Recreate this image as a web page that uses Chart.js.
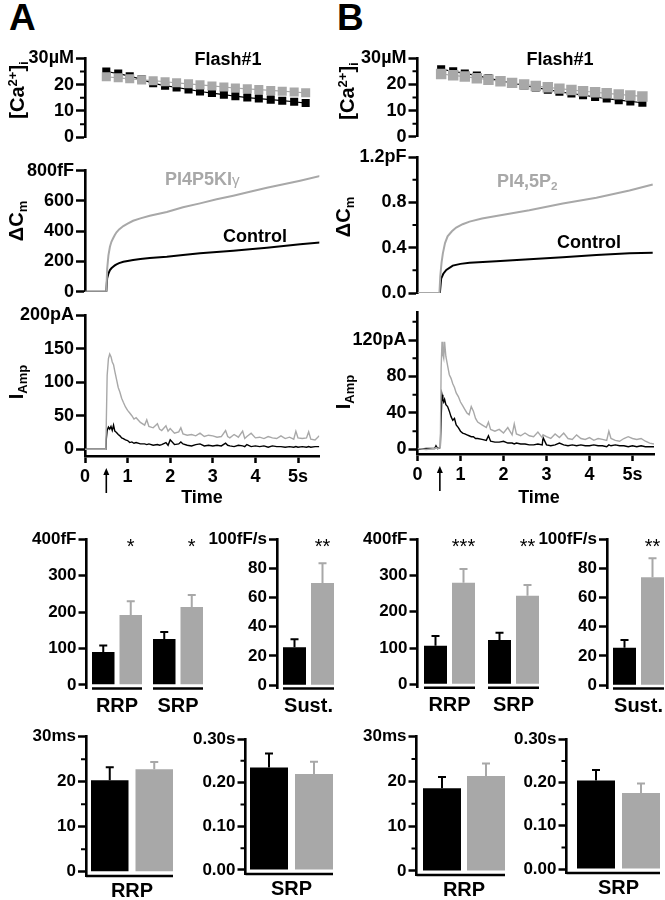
<!DOCTYPE html>
<html>
<head>
<meta charset="utf-8">
<script src="https://cdn.jsdelivr.net/npm/chart.js@4.4.0/dist/chart.umd.min.js"></script>
<style>
  body { margin: 0; background: #fff; width: 665px; height: 900px; overflow: hidden; position: relative;
         font-family: 'Liberation Sans', Arial, Helvetica, sans-serif; }
  canvas { position: absolute; }
  .t { position: absolute; font-weight: bold; line-height: 1; white-space: nowrap; color: #000; }
  .sb { font-size: 0.65em; position: relative; top: 0.3em; }
  .sp { font-size: 0.65em; position: relative; top: -0.55em; }
</style>
</head>
<body>
<script>
// ---------- data ----------
// [Ca2+]i during flash (uM)
const caTimeA = [0.5, 0.78, 1.05, 1.33, 1.6, 1.88, 2.15, 2.43, 2.7, 2.98, 3.26, 3.53, 3.81, 4.08, 4.36, 4.63, 4.91, 5.18];
const caCtrlA = [25, 24.2, 23.2, 22, 20.5, 19.6, 18.9, 18.2, 17.4, 16.8, 16.2, 15.6, 15.1, 14.7, 14.3, 13.9, 13.5, 13.0];
const caPipA  = [23, 22.6, 22.2, 21.8, 21.5, 21.1, 20.7, 20.3, 19.9, 19.5, 19.1, 18.7, 18.4, 18.1, 17.8, 17.5, 17.2, 16.9];
const caTimeB = [0.55, 0.83, 1.1, 1.38, 1.65, 1.93, 2.2, 2.48, 2.75, 3.03, 3.3, 3.58, 3.85, 4.13, 4.4, 4.68, 4.95, 5.23];
const caCtrlB = [25.8, 25, 24.2, 23.4, 22.4, 21.4, 20.5, 19.6, 18.8, 18, 17.2, 16.5, 15.9, 15.2, 14.6, 14.0, 13.5, 13.0];
const caPipB  = [24, 23.5, 23, 22.4, 21.8, 21.2, 20.6, 20, 19.4, 18.9, 18.4, 17.9, 17.4, 17, 16.6, 16.2, 15.8, 15.4];

// capacitance (fF in A, pF in B)
const cmTimeA = [0, 0.5, 0.52, 0.55, 0.585, 0.62, 0.66, 0.7, 0.74, 0.8, 0.9, 1.0, 1.13, 1.3, 1.52, 1.92, 2.3, 2.7, 3.09, 3.48, 3.87, 4.27, 4.66, 5.05, 5.52];
const cmPipA  = [0, 0, 150, 240, 297, 330, 353, 375, 393, 412, 434, 450, 469, 485, 502, 527, 558, 584, 611, 635, 661, 687, 710, 734, 765];
const cmCtrlA = [0, 0, 89, 120, 143, 155, 165, 174, 181, 189, 198, 203, 209, 216, 223, 231, 242, 254, 262, 271, 281, 291, 302, 313, 326];
const cmTimeB = [0, 0.51, 0.53, 0.56, 0.59, 0.64, 0.7, 0.8, 0.9, 1.05, 1.21, 1.5, 1.83, 2.6, 3.38, 4.16, 4.93, 5.47];
const cmPipB  = [0, 0, 0.15, 0.27, 0.35, 0.44, 0.5, 0.545, 0.578, 0.607, 0.63, 0.657, 0.68, 0.73, 0.79, 0.84, 0.905, 0.958];
const cmCtrlTimeB = [0, 0.52, 0.55, 0.6, 0.67, 0.82, 1.0, 1.21, 1.83, 2.6, 3.38, 4.16, 4.93, 5.47];
const cmCtrlB = [0, 0, 0.126, 0.17, 0.204, 0.242, 0.257, 0.266, 0.28, 0.298, 0.315, 0.336, 0.35, 0.356];

// amperometric current (pA)
const ampTimeA = [0, 0.49, 0.5, 0.52, 0.55, 0.58, 0.61, 0.64, 0.67, 0.7, 0.74, 0.78, 0.82, 0.86, 0.9, 0.95, 1.0, 1.05, 1.1, 1.15,
  1.2, 1.3, 1.4, 1.45, 1.5, 1.6, 1.7, 1.75, 1.8, 1.9, 1.95, 2.0, 2.1, 2.2, 2.25, 2.3, 2.4, 2.5, 2.6, 2.7, 2.8, 2.9, 3.0, 3.1,
  3.2, 3.3, 3.35, 3.4, 3.5, 3.6, 3.7, 3.75, 3.8, 3.9, 4.0, 4.1, 4.2, 4.3, 4.4, 4.5, 4.6, 4.7, 4.8, 4.9, 4.95, 5.0, 5.1, 5.2,
  5.25, 5.3, 5.4, 5.5];
const ampPipA = [0, 0, 40, 110, 135, 142, 138, 130, 126, 116, 104, 92, 85, 76, 70, 63, 58, 54, 50, 45,
  47, 40, 36, 44, 34, 32, 38, 30, 28, 35, 27, 31, 24, 26, 32, 23, 21, 22, 20, 24, 19, 21, 20, 18,
  19, 28, 19, 17, 22, 18, 27, 16, 19, 24, 17, 18, 16, 19, 17, 16, 20, 16, 18, 15, 27, 17, 16, 17,
  26, 15, 14, 20];
const ampCtrlA = [0, 0, 15, 28, 33, 30, 34, 28, 36, 27, 25, 22, 20, 17, 16, 14, 13, 10, 11, 9,
  10, 8, 8, 7, 8, 6, 7, 6, 7, 10, 6, 14, 7, 8, 11, 8, 6, 5, 7, 8, 5, 6, 5, 6,
  5, 9, 6, 5, 4, 6, 5, 4, 7, 4, 5, 4, 5, 3, 5, 4, 4, 3, 4, 3, 4, 3, 4, 3,
  4, 3, 4, 4];
const ampTimeB = [0, 0.2, 0.4, 0.43, 0.47, 0.53, 0.55, 0.57, 0.59, 0.61, 0.63, 0.66, 0.7, 0.74, 0.78, 0.82, 0.86, 0.9, 0.95, 1.0,
  1.05, 1.1, 1.15, 1.2, 1.25, 1.3, 1.35, 1.4, 1.5, 1.6, 1.65, 1.7, 1.8, 1.9, 2.0, 2.1, 2.2, 2.25, 2.3, 2.4, 2.5, 2.6, 2.7,
  2.8, 2.9, 2.92, 3.0, 3.1, 3.2, 3.3, 3.4, 3.5, 3.6, 3.7, 3.8, 3.9, 4.0, 4.1, 4.2, 4.3, 4.4, 4.45, 4.5, 4.6, 4.7, 4.8, 4.9,
  5.0, 5.1, 5.2, 5.3, 5.4, 5.5];
const ampPipB = [1, 0, 1, 2, 1, 2, 90, 118, 104, 100, 118, 102, 92, 82, 78, 72, 68, 62, 58, 52,
  48, 44, 40, 38, 47, 42, 34, 30, 27, 24, 30, 22, 20, 22, 18, 24, 16, 28, 17, 15, 18, 15, 14,
  19, 13, 16, 14, 12, 17, 13, 18, 12, 11, 16, 12, 11, 13, 10, 12, 11, 10, 20, 12, 10, 9, 12, 14,
  12, 11, 12, 9, 7, 6];
const ampCtrlB = [0, 1, 1, 4, 1, 2, 35, 60, 55, 52, 55, 49, 47, 42, 36, 32, 34, 27, 24, 20,
  18, 17, 16, 15, 14, 14, 12, 12, 11, 10, 15, 9, 8, 8, 9, 7, 7, 6, 7, 6, 6, 5, 5,
  6, 5, 13, 5, 4, 5, 7, 5, 4, 5, 4, 5, 4, 4, 5, 4, 4, 3, 5, 4, 5, 4, 4, 3,
  4, 3, 4, 3, 3, 3];

// tick values
const timeTicks = [0, 1, 2, 3, 4, 5];
const caTicks = [0, 10, 20, 30], caMinor = [5, 15, 25];
const cmTicksA = [0, 200, 400, 600, 800];
const cmTicksB = [0, 0.4, 0.8, 1.2], cmMinorB = [0.2, 0.6, 1.0];
const ampTicksA = [0, 50, 100, 150, 200];
const ampTicksB = [0, 40, 80, 120], ampMinorB = [20, 60, 100, 140];
const poolTicks = [0, 100, 200, 300, 400];
const sustTicks = [0, 20, 40, 60, 80, 100];
const tauRrpTicks = [0, 10, 20, 30], tauRrpMinor = [5, 15, 25];
const tauSrpTicks = [0, 0.1, 0.2, 0.3], tauSrpMinor = [0.05, 0.15, 0.25];

// pool sizes (fF), sustained rate (fF/s), time constants (ms, s)
const poolCats = ['RRP', 'SRP'];
const poolCtrlA = [90, 126], poolCtrlErrA = [18, 19], poolPipA = [192, 214], poolPipErrA = [38, 33];
const poolStarsA = ['*', '*'];
const poolCtrlB = [106, 122], poolCtrlErrB = [27, 20], poolPipB = [280, 244], poolPipErrB = [38, 30];
const poolStarsB = ['***', '**'];
const sustCats = ['Sust.'];
const sustCtrlA = [26], sustCtrlErrA = [5.5], sustPipA = [70], sustPipErrA = [13.5], sustStarsA = ['**'];
const sustCtrlB = [25.7], sustCtrlErrB = [5.3], sustPipB = [74], sustPipErrB = [13], sustStarsB = ['**'];
const tauRrpCats = ['RRP'], tauSrpCats = ['SRP'];
const tauRrpCtrlA = [20.3], tauRrpCtrlErrA = [2.9], tauRrpPipA = [22.75], tauRrpPipErrA = [1.65];
const tauSrpCtrlA = [0.235], tauSrpCtrlErrA = [0.032], tauSrpPipA = [0.22], tauSrpPipErrA = [0.028];
const tauRrpCtrlB = [18.5], tauRrpCtrlErrB = [2.5], tauRrpPipB = [21.2], tauRrpPipErrB = [2.8];
const tauSrpCtrlB = [0.205], tauSrpCtrlErrB = [0.024], tauSrpPipB = [0.176], tauSrpPipErrB = [0.022];

// ---------- setup ----------
const FONT = "'Liberation Sans', Arial, Helvetica, sans-serif";
const BLACK = '#000', GREY = '#a8a8a8';
Chart.defaults.font.family = FONT;
Chart.defaults.font.weight = 'bold';
Chart.defaults.color = BLACK;
Chart.defaults.animation = false;
Chart.defaults.plugins.legend.display = false;
Chart.defaults.plugins.tooltip.enabled = false;

const xy = (t, v) => t.map((x, i) => ({ x: x, y: v[i] }));

// canvas placed so that the plot area lands on box (page pixels)
function makeChart(box, cfg, xShown, mb) {
  const left = Math.floor(box.l - 80), top = Math.floor(box.t - 16);
  const ml = box.l - left, mt = box.t - top;
  const w = Math.ceil(box.r - left + 8), h = Math.ceil(box.b - top + (xShown ? mb : 14));
  const c = document.createElement('canvas');
  c.width = w; c.height = h;
  c.style.left = left + 'px'; c.style.top = top + 'px';
  c.style.width = w + 'px'; c.style.height = h + 'px';
  document.body.appendChild(c);
  const o = cfg.options;
  o.responsive = false;
  o.devicePixelRatio = 1;
  o.events = [];
  o.layout = { padding: { left: 0, top: mt, right: w - (box.r - left),
                          bottom: h - (box.b - top) - (xShown ? mb : 0) } };
  o.scales.y.afterFit = s => { s.width = ml; };
  if (xShown) o.scales.x.afterFit = s => { s.height = mb; };
  return new Chart(c, cfg);
}

function yAxis(min, max, ticks, fmt, size, tickLen) {
  return {
    type: 'linear', min: min, max: max,
    afterBuildTicks: s => { s.ticks = ticks.map(v => ({ value: v })); },
    ticks: { callback: v => fmt(v), font: { size: size, weight: 'bold' }, color: BLACK, padding: 2 },
    grid: { drawOnChartArea: false, drawTicks: true, tickLength: tickLen, tickWidth: 2.5, tickColor: BLACK },
    border: { display: true, color: BLACK, width: 2.6 }
  };
}

function minorPlugin(values) {
  return {
    id: 'minor',
    afterDraw(chart) {
      const ys = chart.scales.y, ctx = chart.ctx, x0 = chart.chartArea.left;
      ctx.save();
      ctx.strokeStyle = BLACK; ctx.lineWidth = 2;
      ctx.beginPath();
      values.forEach(v => { const p = ys.getPixelForValue(v); ctx.moveTo(x0 - 5, p); ctx.lineTo(x0, p); });
      ctx.stroke();
      ctx.restore();
    }
  };
}

function arrowPlugin(t) {
  return {
    id: 'flashArrow',
    afterDraw(chart) {
      const ctx = chart.ctx, x = chart.scales.x.getPixelForValue(t), y0 = chart.chartArea.bottom + 12;
      ctx.save();
      ctx.strokeStyle = BLACK; ctx.fillStyle = BLACK; ctx.lineWidth = 1.6;
      ctx.beginPath(); ctx.moveTo(x, y0 + 4); ctx.lineTo(x, y0 + 25); ctx.stroke();
      ctx.beginPath(); ctx.moveTo(x, y0); ctx.lineTo(x - 3, y0 + 7); ctx.lineTo(x + 3, y0 + 7); ctx.closePath(); ctx.fill();
      ctx.restore();
    }
  };
}

function traceLine(data, color, width) {
  return { data: data, borderColor: color, borderWidth: width, pointRadius: 0, fill: false };
}

function caChart(box, t, ctrl, pip, rCtrl, rPip) {
  const sq = (d, c, r) => ({ data: d, borderColor: c, backgroundColor: c, borderWidth: 1.2,
    pointStyle: 'rect', pointRadius: r, pointBorderWidth: 0, pointBackgroundColor: c });
  return makeChart(box, {
    type: 'line',
    data: { datasets: [sq(xy(t, pip), GREY, rPip), sq(xy(t, ctrl), BLACK, rCtrl)] },
    options: { scales: {
      x: { type: 'linear', min: 0, max: 5.5, display: false },
      y: yAxis(0, 30, caTicks, v => v === 30 ? '30µM' : String(v), 18, 9) } },
    plugins: [minorPlugin(caMinor)]
  }, false);
}

function cmChart(box, pipData, ctrlData, yMax, ticks, fmt, minor) {
  return makeChart(box, {
    type: 'line',
    data: { datasets: [traceLine(pipData, GREY, 2), traceLine(ctrlData, BLACK, 2)] },
    options: { scales: {
      x: { type: 'linear', min: 0, max: 5.5, display: false },
      y: yAxis(0, yMax, ticks, fmt, 18, 9) } },
    plugins: minor ? [minorPlugin(minor)] : []
  }, false);
}

function ampChart(box, pipData, ctrlData, yMin, yMax, ticks, fmt, minor, flashT) {
  return makeChart(box, {
    type: 'line',
    data: { datasets: [traceLine(pipData, GREY, 1.4), traceLine(ctrlData, BLACK, 1.4)] },
    options: { scales: {
      x: { type: 'linear', min: 0, max: 5.5,
           afterBuildTicks: s => { s.ticks = timeTicks.map(v => ({ value: v })); },
           ticks: { callback: v => v === 5 ? '5s' : String(v), font: { size: 18, weight: 'bold' },
                    color: BLACK, padding: 3, maxRotation: 0, autoSkip: false },
           grid: { drawOnChartArea: false, drawTicks: true, tickLength: 7, tickWidth: 2.5, tickColor: BLACK },
           border: { display: true, color: BLACK, width: 2.6 } },
      y: yAxis(yMin, yMax, ticks, fmt, 18, 9) } },
    plugins: [arrowPlugin(flashT)].concat(minor ? [minorPlugin(minor)] : [])
  }, true, 40);
}

function barDecor(errs, stars, mode) {
  return {
    id: 'barDecor',
    afterDatasetsDraw(chart) {
      const ctx = chart.ctx, ys = chart.scales.y, area = chart.chartArea;
      ctx.save();
      chart.data.datasets.forEach((ds, i) => {
        chart.getDatasetMeta(i).data.forEach((bar, j) => {
          const yTop = ys.getPixelForValue(ds.data[j] + errs[i][j]);
          ctx.strokeStyle = ds.backgroundColor; ctx.lineWidth = 2;
          ctx.beginPath();
          ctx.moveTo(bar.x, bar.y); ctx.lineTo(bar.x, yTop);
          ctx.moveTo(bar.x - 4, yTop); ctx.lineTo(bar.x + 4, yTop);
          ctx.stroke();
        });
      });
      const m0 = chart.getDatasetMeta(0).data, m1 = chart.getDatasetMeta(1).data;
      ctx.strokeStyle = BLACK; ctx.lineWidth = 2.6;
      ctx.beginPath();
      if (mode === 'L') {
        const last = m1[m1.length - 1];
        ctx.moveTo(area.left, area.bottom); ctx.lineTo(last.x + last.width / 2, area.bottom);
      } else {
        m0.forEach((b, j) => { ctx.moveTo(b.x - b.width / 2, area.bottom); ctx.lineTo(m1[j].x + m1[j].width / 2, area.bottom); });
      }
      ctx.stroke();
      if (stars) {
        ctx.fillStyle = BLACK; ctx.font = '20px ' + FONT; ctx.textAlign = 'center'; ctx.textBaseline = 'alphabetic';
        stars.forEach((s, j) => ctx.fillText(s, m1[j].x, area.top + 14));
      }
      ctx.restore();
    }
  };
}

function barChart(box, geo, cats, ctrl, ctrlErr, pip, pipErr, stars, y, labelSize, labelPad, mode, minor) {
  const W = 2 * (geo.first - box.l) + 2 * geo.bw + geo.gap;
  box.r = box.l + W * cats.length;
  const catPct = 2 * (geo.bw + geo.gap) / W, barPct = geo.bw / (geo.bw + geo.gap);
  const ds = (d, c) => ({ data: d, backgroundColor: c, categoryPercentage: catPct, barPercentage: barPct });
  return makeChart(box, {
    type: 'bar',
    data: { labels: cats, datasets: [ds(ctrl, BLACK), ds(pip, GREY)] },
    options: { scales: {
      x: { type: 'category', offset: true, grid: { display: false, drawTicks: false }, border: { display: false },
           ticks: { font: { size: labelSize, weight: 'bold' }, color: BLACK, padding: labelPad, maxRotation: 0, autoSkip: false } },
      y: y } },
    plugins: [barDecor([ctrlErr, pipErr], stars, mode)].concat(minor ? [minorPlugin(minor)] : [])
  }, true, 40);
}

// ---------- panel A ----------
caChart({ l: 85, t: 58.3, r: 319.3, b: 137.3 }, caTimeA, caCtrlA, caPipA, 5.7, 6.4);
cmChart({ l: 85, t: 170.7, r: 319.3, b: 291.7 }, xy(cmTimeA, cmPipA), xy(cmTimeA, cmCtrlA),
  800, cmTicksA, v => v === 800 ? '800fF' : String(v), null);
ampChart({ l: 85, t: 315, r: 319.3, b: 456 }, xy(ampTimeA, ampPipA), xy(ampTimeA, ampCtrlA),
  -10, 200, ampTicksA, v => v === 200 ? '200pA' : String(v), null, 0.5);

// ---------- panel B ----------
caChart({ l: 417.5, t: 58.3, r: 654, b: 136.7 }, caTimeB, caCtrlB, caPipB, 5.7, 7.4);
cmChart({ l: 417.5, t: 157, r: 654, b: 293 }, xy(cmTimeB, cmPipB), xy(cmCtrlTimeB, cmCtrlB),
  1.2, cmTicksB, v => v === 1.2 ? '1.2pF' : v.toFixed(1), cmMinorB);
ampChart({ l: 417.5, t: 312.7, r: 654, b: 454 }, xy(ampTimeB, ampPipB), xy(ampTimeB, ampCtrlB),
  -5, 150, ampTicksB, v => v === 120 ? '120pA' : String(v), ampMinorB, 0.52);

// ---------- bar charts ----------
const poolFmt = v => v === 400 ? '400fF' : String(v);
const sustFmt = v => v === 100 ? '100fF/s' : String(v);
const rrpFmt = v => v === 30 ? '30ms' : String(v);
const srpFmt = v => v === 0.3 ? '0.30s' : v.toFixed(2);

barChart({ l: 86.5, t: 539.3, b: 688.5 }, { first: 92, bw: 22.5, gap: 5 }, poolCats,
  poolCtrlA, poolCtrlErrA, poolPipA, poolPipErrA, poolStarsA, yAxis(-10, 400, poolTicks, poolFmt, 17, 8), 20, 5.5, 'groups');
barChart({ l: 277, t: 539.3, b: 688.5 }, { first: 283, bw: 23, gap: 5 }, sustCats,
  sustCtrlA, sustCtrlErrA, sustPipA, sustPipErrA, sustStarsA, yAxis(-2.3, 100, sustTicks, sustFmt, 17, 8), 20, 5.5, 'groups');
barChart({ l: 417.5, t: 539.3, b: 687.7 }, { first: 424, bw: 23, gap: 5 }, poolCats,
  poolCtrlB, poolCtrlErrB, poolPipB, poolPipErrB, poolStarsB, yAxis(-9.4, 400, poolTicks, poolFmt, 17, 8), 20, 5.5, 'groups');
barChart({ l: 607, t: 539.3, b: 688.5 }, { first: 613, bw: 23, gap: 5 }, sustCats,
  sustCtrlB, sustCtrlErrB, sustPipB, sustPipErrB, sustStarsB, yAxis(-2.3, 100, sustTicks, sustFmt, 17, 8), 20, 5.5, 'groups');

barChart({ l: 86, t: 736.7, b: 876 }, { first: 91, bw: 37.5, gap: 7 }, tauRrpCats,
  tauRrpCtrlA, tauRrpCtrlErrA, tauRrpPipA, tauRrpPipErrA, null, yAxis(-0.96, 30, tauRrpTicks, rrpFmt, 17, 8), 20, 3.5, 'L', tauRrpMinor);
barChart({ l: 245.5, t: 739, b: 874 }, { first: 250, bw: 38, gap: 7 }, tauSrpCats,
  tauSrpCtrlA, tauSrpCtrlErrA, tauSrpPipA, tauSrpPipErrA, null, yAxis(-0.0092, 0.3, tauSrpTicks, srpFmt, 17, 8), 20, 3.5, 'L', tauSrpMinor);
barChart({ l: 416.5, t: 736.7, b: 875 }, { first: 423, bw: 38, gap: 6 }, tauRrpCats,
  tauRrpCtrlB, tauRrpCtrlErrB, tauRrpPipB, tauRrpPipErrB, null, yAxis(-0.9, 30, tauRrpTicks, rrpFmt, 17, 8), 20, 3.5, 'L', tauRrpMinor);
barChart({ l: 566.5, t: 739.3, b: 873 }, { first: 577, bw: 38, gap: 7 }, tauSrpCats,
  tauSrpCtrlB, tauSrpCtrlErrB, tauSrpPipB, tauSrpPipErrB, null, yAxis(-0.0092, 0.3, tauSrpTicks, srpFmt, 17, 8), 20, 3.5, 'L', tauSrpMinor);

// ---------- text labels ----------
function addText(html, x, base, size, o) {
  o = o || {};
  const d = document.createElement('div');
  d.className = 't';
  d.innerHTML = html;
  d.style.fontSize = size + 'px';
  d.style.left = x + 'px';
  d.style.top = (base - 0.846 * size) + 'px';
  if (o.color) d.style.color = o.color;
  if (o.center) d.style.transform = 'translateX(-50%)';
  document.body.appendChild(d);
}
function addVText(html, cx, cy, size) {
  const d = document.createElement('div');
  d.className = 't';
  d.innerHTML = html;
  d.style.fontSize = size + 'px';
  d.style.left = cx + 'px';
  d.style.top = cy + 'px';
  d.style.transform = 'translate(-50%,-50%) rotate(-90deg)';
  document.body.appendChild(d);
}

addText('A', 9, 30, 37);
addText('B', 337, 30, 37);
addText('Flash#1', 228, 65, 18, { center: true });
addText('Flash#1', 560, 65, 18, { center: true });
addVText('[Ca<span class="sp">2+</span>]<span class="sb">i</span>', 17, 90, 20);
addVText('[Ca<span class="sp">2+</span>]<span class="sb">i</span>', 347, 91, 20);
addVText('ΔC<span class="sb">m</span>', 16, 221, 20);
addVText('ΔC<span class="sb">m</span>', 343, 217, 20);
addVText('I<span class="sb">Amp</span>', 16, 382, 20);
addVText('I<span class="sb">Amp</span>', 343, 392, 20);
addText('PI4P5KI<span style="font-weight:normal;font-size:0.85em">γ</span>', 165, 185, 18, { color: GREY });
addText('Control', 223, 242, 18);
addText('PI4,5P<span class="sb">2</span>', 497, 187, 18, { color: GREY });
addText('Control', 557, 248, 18);
addText('Time', 202, 503, 18, { center: true });
addText('Time', 539, 503, 18, { center: true });
</script>
</body>
</html>
